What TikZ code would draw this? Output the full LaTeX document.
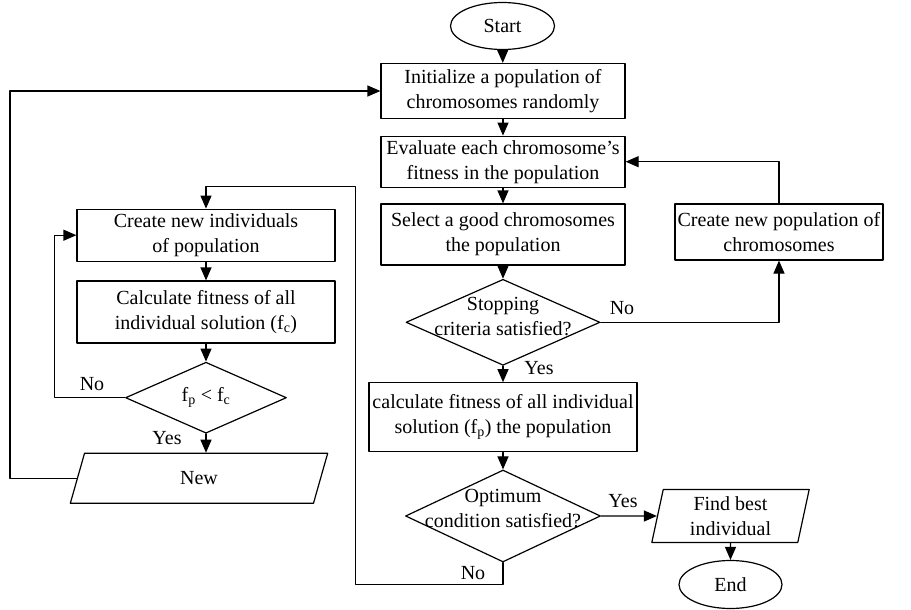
\documentclass[tikz,border=0pt]{standalone}
\usepackage{fontspec}
\setmainfont{Liberation Serif}
\usetikzlibrary{arrows.meta,shapes.geometric}

\begin{document}
\begin{tikzpicture}[line cap=round,line join=round,>={Triangle[length=13pt,width=11pt]},x=1pt,y=-1pt,line width=1.2pt,
        every node/.style={font=\fontsize{20}{25}\selectfont},
        process/.style={draw,rectangle,align=center,inner sep=0pt},
        decision/.style={draw,diamond,inner sep=0pt},
        terminal/.style={draw,ellipse,inner sep=0pt},
        io/.style={draw,trapezium,trapezium left angle=80,trapezium right angle=100,trapezium stretches=true,align=center,inner sep=0pt}]
        \useasboundingbox (0,0) rectangle (911,610);
        \node[terminal,minimum width=104pt,minimum height=47pt] (start) at (502.5,26) {Start};
        \node[process,minimum width=244pt,minimum height=55pt] (init) at (503,91) {Initialize a population of\\chromosomes randomly};
        \node[process,minimum width=244pt,minimum height=51pt] (eval) at (503,161.7) {Evaluate each chromosome’s\\fitness in the population};
        \node[process,minimum width=244pt,minimum height=61pt] (select) at (503,234.5) {Select a good chromosomes\\the population};
        \node[process,minimum width=208pt,minimum height=56pt] (cpop) at (779,232) {Create new population of\\chromosomes};
        \node[decision,minimum width=194pt,minimum height=86pt,label={[align=center,yshift=6pt]center:Stopping\\criteria satisfied?}] (stop) at (503,322.3) {};
        \node[process,minimum width=268pt,minimum height=69pt] (calc) at (503,417.3) {calculate fitness of all individual\\solution (f\textsubscript{p}) the population};
        \node[decision,minimum width=195pt,minimum height=92pt,label={[align=center,yshift=7pt]center:Optimum\\condition satisfied?}] (opt) at (503,516) {};
        \node[io,minimum width=158pt,minimum height=53pt] (find) at (730.5,516) {Find best\\individual};
        \node[terminal,minimum width=103pt,minimum height=48pt] (end) at (730.5,584.5) {End};
        \node[process,minimum width=258pt,minimum height=52pt] (cnew) at (206,235.2) {Create new individuals\\of population};
        \node[process,minimum width=258pt,minimum height=62pt] (cfit) at (206,312) {Calculate fitness of all\\individual solution (f\textsubscript{c})};
        \node[decision,minimum width=161pt,minimum height=71pt,label={center:f\textsubscript{p} < f\textsubscript{c}}] (cmp) at (206,397.7) {};
        \node[io,minimum width=258pt,minimum height=50pt] (new) at (199,478.3) {New};
        \coordinate (outer) at (10,0);
        \coordinate (inner) at (54.3,0);
        \coordinate (nobot) at (355.3,584.3);
        \coordinate (notop) at (355.3,186.7);
        \draw[->] (start) -- (init);
        \draw[->] (init) -- (eval);
        \draw[->] (eval) -- (select);
        \draw[->] (select) -- (stop);
        \draw[->] (stop) -- (calc);
        \draw[->] (calc) -- (opt);
        \draw[->] (opt.east) -- (find.west);
        \draw[->] (find) -- (end);
        \draw[->] (stop.east) -| (cpop.south);
        \draw[->] (cpop.north) |- (eval.east);
        \draw[->] (opt.south) |- (nobot) -- (notop) -| (cnew.north);
        \draw[->] (cnew) -- (cfit);
        \draw[->] (cfit) -- (cmp);
        \draw[->] (cmp.south) -- (cmp.south |- new.north);
        \draw[->] (cmp.west) -- (cmp.west -| inner) |- (cnew.west);
        \draw[->] (new.west) -- (new.west -| outer) |- (init.west);
        \node (no1) at (622,308) {No};
        \node (yes1) at (539,368) {Yes};
        \node (yes2) at (623,501) {Yes};
        \node (no2) at (473,573) {No};
        \node (no3) at (92,384) {No};
        \node (yes3) at (167,438) {Yes};
    \end{tikzpicture}
\end{document}
